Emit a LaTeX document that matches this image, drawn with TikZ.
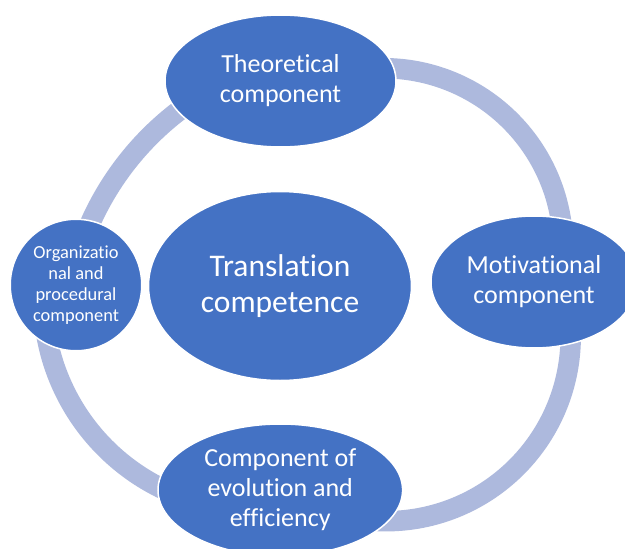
\documentclass[tikz,border=0pt]{standalone}
\usepackage{fontspec}
\setmainfont{Carlito}[Ligatures=NoCommon]
\usetikzlibrary{shapes.geometric}
\definecolor{nodeblue}{HTML}{4472C4}
\definecolor{ringblue}{HTML}{ADB9DD}
\begin{document}
\begin{tikzpicture}[x=1pt,y=-1pt,
  part/.style={ellipse, fill=nodeblue, draw=white, line width=1.5pt,
    text=white, align=center, inner sep=0pt,
    font=\fontsize{26}{30}\selectfont},
  ring/.style={draw=ringblue, line width=20.5pt},
]
\useasboundingbox (0,0) rectangle (625,549);
\fill[white] (0,0) rectangle (625,549);

% connecting arcs of the cycle (drawn first, the components cover their ends)
\draw[ring] plot[domain=-95:0, samples=80, variable=\t]
  ({383.3+179.8*cos(\t)}, {248+179.8*sin(\t)});
\draw[ring] plot[domain=-5:100, samples=80, variable=\t]
  ({386+184.7*cos(\t)}, {336.5+184.7*sin(\t)});
\draw[ring] plot[domain=105:180, samples=80, variable=\t]
  ({255.1+211.9*cos(\t)}, {298.2+211.9*sin(\t)});
\draw[ring] plot[domain=195:245, samples=80, variable=\t]
  ({354.5+289.2*cos(\t)}, {340.6+289.2*sin(\t)});

% components
\node[part, minimum width=263pt, minimum height=189pt,
  font=\fontsize{31.5}{36}\selectfont] (core) at (280,286)
  {Translation\\competence};
\node[part, minimum width=231pt, minimum height=132pt] (theo) at (280.5,81)
  {Theoretical\\component};
\node[part, minimum width=206pt, minimum height=132pt] (moti) at (534,282)
  {Motivational\\component};
\node[part, minimum width=244.6pt, minimum height=132pt] (evol) at (280.3,490)
  {Component of\\evolution and\\efficiency};
\node[part, circle, minimum size=131.5pt,
  font=\fontsize{18.4}{21}\selectfont] (orga) at (76,285)
  {Organizatio\\nal and\\procedural\\component};
\end{tikzpicture}
\end{document}
